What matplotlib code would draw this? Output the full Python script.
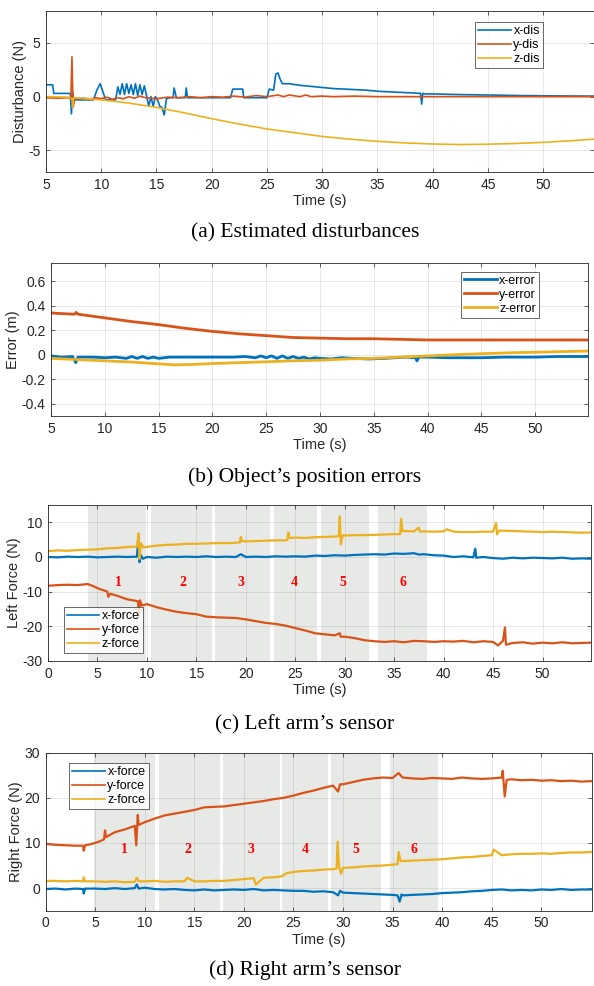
import numpy as np
import matplotlib
matplotlib.use('Agg')
import matplotlib.pyplot as plt

plt.rcParams['font.family'] = ['Liberation Sans', 'DejaVu Sans']

C_BLUE = '#0072BD'
C_RED = '#D95319'
C_YEL = '#EDB120'
C_TXT = '#262626'

# (a) estimated disturbances: (time, value)
xdis = [(5, 1.1), (5.6, 1.1), (5.7, 0.3), (7.2, 0.3), (7.3, -1.6), (7.4, 0.4), (7.5, -0.3),
        (9.3, -0.3), (9.6, 0.6), (9.9, 1.2), (10.1, 0.6), (10.4, -0.3), (11.3, -0.3),
        (11.5, 0.9), (11.7, 0.2), (11.9, 1.2), (12.1, 0.2), (12.3, 1.2), (12.5, 0.3),
        (12.7, 1.1), (12.9, 0.2), (13.1, 1.2), (13.3, 0.1), (13.5, 1.1), (13.7, 0.2),
        (13.9, 1.0), (14.1, 0.1), (14.3, -0.9), (14.5, 0.0), (14.7, -0.9), (14.9, 0.0),
        (15.1, -0.3), (15.3, -0.9), (15.5, -1.0), (15.7, -1.7), (15.9, -0.2), (16.2, -0.1),
        (16.5, -0.1), (16.6, 0.8), (16.8, -0.1), (17.6, -0.1), (17.7, 0.8), (17.8, -0.1),
        (21.7, -0.1), (21.9, 0.7), (22.8, 0.7), (22.9, -0.1), (25.0, -0.1), (25.2, 0.7),
        (25.6, 0.6), (25.8, 2.1), (26.0, 2.2), (26.2, 1.6), (26.4, 1.2), (27, 1.2), (28, 1.05),
        (29, 0.95), (30, 0.85), (31, 0.75), (32, 0.7), (33, 0.65), (34, 0.6), (35, 0.5),
        (36, 0.45), (37, 0.4), (38, 0.35), (38.9, 0.3), (39.0, -0.7), (39.1, 0.3), (39.3, 0.25),
        (40, 0.25), (42, 0.2), (45, 0.15), (48, 0.1), (50, 0.08), (52, 0.06), (54.6, 0.05)]
ydis = [(5, -0.1), (6, -0.15), (7, -0.1), (7.25, -0.2), (7.35, 3.7), (7.45, -1.0), (7.6, -0.2),
        (8.5, -0.15), (9, -0.3), (9.5, -0.1), (10, -0.2), (10.5, -0.05), (11, -0.25), (11.5, -0.1),
        (12, -0.2), (12.5, 0.0), (13, -0.15), (13.5, 0.05), (14, -0.1), (15, -0.2), (16, -0.05),
        (17, -0.1), (18, 0.0), (19, -0.1), (20, 0.0), (21, -0.05), (22, 0.05), (23, -0.05),
        (24, 0.1), (25, 0.0), (26, 0.15), (26.5, 0.0), (27, 0.15), (28, 0.0), (28.5, 0.15),
        (29, 0.0), (30, 0.05), (31, 0.0), (33, 0.05), (35, 0.0), (40, 0.0), (45, 0.0),
        (50, 0.0), (54.6, 0.0)]
zdis = [(5, 0.0), (7, -0.05), (7.35, -0.2), (7.4, -1.0), (7.5, -0.1), (8.5, -0.2), (10, -0.3),
        (12.5, -0.6), (15, -1.0), (17.5, -1.5), (20, -2.05), (22.5, -2.55), (25, -3.0),
        (27.5, -3.35), (30, -3.7), (32.5, -3.95), (35, -4.15), (37.5, -4.3), (40, -4.4),
        (42.5, -4.45), (45, -4.42), (47.5, -4.35), (50, -4.25), (52.5, -4.1), (54.6, -3.95)]

# (b) position errors
xerr = [(5, -0.01), (6, -0.02), (7, -0.015), (7.3, -0.065), (7.5, -0.02), (9, -0.02), (10, -0.025),
        (11, -0.02), (12, -0.03), (12.5, -0.015), (13, -0.03), (13.5, -0.015), (14, -0.03),
        (14.5, -0.02), (15, -0.03), (16, -0.02), (18, -0.02), (20, -0.02), (22, -0.02),
        (23, -0.015), (24, -0.025), (24.5, -0.01), (25, -0.025), (25.5, -0.01), (26, -0.03),
        (26.5, -0.01), (27, -0.03), (27.5, -0.015), (28, -0.03), (28.5, -0.02), (29, -0.035),
        (29.5, -0.025), (30, -0.03), (31, -0.035), (32, -0.025), (33, -0.03), (34.5, -0.035),
        (36, -0.03), (38, -0.02), (38.9, -0.025), (39, -0.05), (39.2, -0.02), (40, -0.02),
        (42, -0.025), (45, -0.025), (47, -0.02), (50, -0.02), (52, -0.015), (55, -0.015)]
yerr = [(5, 0.34), (6, 0.335), (7.2, 0.33), (7.35, 0.345), (7.5, 0.33), (10, 0.30), (12.5, 0.27),
        (15, 0.245), (17.5, 0.215), (20, 0.19), (22.5, 0.17), (25, 0.155), (27.5, 0.14),
        (30, 0.135), (32.5, 0.13), (35, 0.13), (37.5, 0.125), (40, 0.12), (45, 0.12),
        (50, 0.12), (55, 0.12)]
zerr = [(5, -0.03), (7.5, -0.04), (10, -0.05), (12.5, -0.06), (15, -0.075), (16.5, -0.083),
        (18, -0.08), (20, -0.072), (22.5, -0.065), (25, -0.058), (27.5, -0.05), (30, -0.045),
        (32.5, -0.035), (35, -0.03), (37.5, -0.02), (40, -0.01), (42.5, 0.0), (45, 0.008),
        (47.5, 0.015), (50, 0.02), (52.5, 0.025), (55, 0.03)]

# (c) left arm sensor
lx = [(0, 0.0), (1, -0.1), (2, 0.1), (3, 0.0), (4, 0.1), (5, -0.1), (6, 0.0), (7, 0.1), (8, 0.0),
      (9, 0.1), (9.15, 6.5), (9.25, -1.5), (9.4, 0.5), (9.6, -0.5), (10, 0.0), (11, -0.2),
      (12, 0.1), (13, 0.0), (14, 0.1), (15, 0.0), (16, 0.2), (17, 0.0), (18, 0.1), (19, 0.0),
      (19.5, 0.8), (20, 0.0), (21, 0.1), (22, 0.0), (23, 0.2), (24, 0.1), (25, 0.2), (26, 0.1),
      (27, 0.4), (28, 0.3), (29, 0.5), (30, 0.4), (31, 0.6), (32, 0.7), (33, 0.8), (34, 0.7),
      (35, 1.0), (36, 0.9), (37, 1.1), (37.5, 0.7), (38, 0.8), (39, 0.5), (40, 0.4), (41, 0.0),
      (42, 0.2), (43, -0.1), (43.2, 2.4), (43.3, -0.2), (44, 0.0), (45, -0.3), (46, -0.5),
      (47, -0.2), (48, -0.4), (49, -0.2), (50, -0.3), (51, -0.4), (52, -0.2), (53, -0.5),
      (54, -0.4), (55, -0.5)]
ly = [(0, -8.3), (1, -8.1), (2, -8.0), (3, -8.1), (4, -7.8), (4.5, -8.3), (5, -9.0), (5.5, -9.5),
      (6, -10.0), (6.1, -11.5), (6.3, -10.6), (7, -11.2), (8, -12.2), (8.8, -12.6), (9.1, -12.8),
      (9.2, -17.0), (9.3, -12.5), (9.5, -14.0), (10, -13.6), (11, -14.5), (12, -15.2),
      (13, -15.8), (14, -16.2), (15, -16.5), (16, -17.2), (17, -17.4), (18, -17.5), (19, -17.6),
      (20, -18.0), (21, -18.5), (22, -19.0), (23, -19.3), (24, -19.8), (25, -20.5), (26, -21.2),
      (27, -22.0), (28, -22.3), (29, -22.6), (29.5, -22.0), (29.6, -23.0), (30, -23.0),
      (31, -23.4), (32, -24.0), (33, -24.3), (34, -24.5), (35, -24.3), (36, -24.6), (37, -24.2),
      (38, -24.3), (39, -24.5), (40, -24.3), (41, -24.4), (42, -24.2), (43, -24.6), (44, -24.3),
      (45, -24.5), (45.5, -25.5), (46, -24.2), (46.2, -20.3), (46.3, -25.3), (47, -24.8),
      (48, -24.6), (49, -25.0), (50, -24.7), (51, -24.9), (52, -24.6), (53, -24.9), (54, -24.8),
      (55, -24.7)]
lz = [(0, 1.7), (1, 1.9), (2, 1.8), (3, 2.0), (4, 2.1), (5, 2.2), (6, 2.5), (7, 2.6), (8, 2.9),
      (9, 3.0), (9.15, 6.8), (9.25, -0.5), (9.4, 4.0), (9.6, 2.8), (10, 2.9), (11, 3.3), (12, 3.5),
      (13, 3.6), (14, 3.8), (15, 3.8), (16, 3.9), (17, 4.0), (18, 4.0), (19, 4.1), (19.4, 4.2),
      (19.5, 5.8), (19.6, 4.6), (20, 4.5), (21, 4.6), (22, 4.7), (23, 4.8), (24, 4.8), (24.2, 4.9),
      (24.3, 7.1), (24.4, 5.5), (25, 5.6), (26, 5.5), (27, 5.7), (28, 5.8), (29, 5.9), (29.4, 6.0),
      (29.5, 11.7), (29.6, 3.6), (29.8, 6.3), (30, 6.2), (31, 6.3), (32, 6.3), (33, 6.4),
      (34, 6.5), (35, 6.6), (35.6, 6.6), (35.7, 11.0), (35.85, 7.4), (36, 7.5), (37, 7.4),
      (37.5, 8.5), (37.6, 7.3), (38, 7.4), (39, 7.3), (40, 7.4), (40.3, 8.0), (41, 7.3), (42, 7.2),
      (43, 7.2), (44, 7.3), (45, 7.3), (45.3, 9.8), (45.4, 6.5), (45.6, 7.6), (46, 7.6), (47, 7.5),
      (48, 7.4), (49, 7.3), (50, 7.2), (51, 7.3), (52, 7.2), (53, 7.1), (54, 7.0), (55, 7.1)]

# (d) right arm sensor
rx = [(0, -0.2), (1, -0.1), (2, -0.3), (3, -0.1), (3.8, -0.2), (3.85, -1.2), (4, -0.1), (5, -0.1),
      (6, -0.2), (7, 0.0), (8, -0.2), (9, 0.0), (9.2, 0.8), (9.4, -0.1), (10, 0.1), (11, -0.2),
      (12, -0.3), (13, -0.2), (14, -0.4), (15, -0.5), (16, -0.3), (17, -0.5), (18, -0.4),
      (19, -0.3), (20, -0.4), (21, -0.2), (22, -0.5), (23, -0.4), (24, -0.5), (25, -0.6),
      (26, -0.6), (27, -0.8), (28, -0.7), (29, -0.9), (29.5, -1.6), (29.7, -0.6), (30, -1.0),
      (31, -1.1), (32, -1.2), (33, -1.3), (34, -1.4), (35, -1.5), (35.5, -1.6), (35.7, -3.0),
      (35.9, -1.4), (36, -1.6), (37, -1.5), (38, -1.4), (39, -1.3), (40, -1.1), (41, -1.0),
      (42, -0.9), (43, -0.7), (44, -0.6), (45, -0.4), (46, -0.3), (47, -0.5), (48, -0.4),
      (49, -0.5), (50, -0.3), (51, -0.4), (52, -0.2), (53, -0.4), (54, -0.3), (55, -0.3)]
ry = [(0, 9.8), (1, 9.6), (2, 9.5), (3, 9.4), (3.8, 9.4), (3.85, 8.3), (4, 9.5), (4.5, 9.7),
      (5, 10.0), (5.5, 10.4), (5.9, 10.8), (6.0, 12.8), (6.1, 11.3), (7, 12.4), (8, 13.0),
      (9, 13.8), (9.15, 9.5), (9.3, 16.2), (9.4, 14.0), (10, 14.6), (11, 15.4), (12, 16.1),
      (13, 16.5), (14, 16.9), (15, 17.3), (16, 17.9), (17, 18.0), (18, 18.1), (19, 18.4),
      (20, 18.7), (21, 19.0), (22, 19.3), (23, 19.7), (24, 20.0), (25, 20.5), (26, 21.1),
      (27, 21.6), (28, 22.2), (29, 22.7), (29.5, 21.4), (29.7, 23.0), (30, 23.0), (31, 23.5),
      (32, 24.0), (33, 24.3), (34, 24.5), (35, 24.4), (35.6, 25.5), (36, 24.5), (37, 24.3),
      (38, 24.2), (39, 24.4), (40, 24.3), (41, 24.2), (42, 24.5), (43, 24.3), (44, 24.2),
      (45, 24.3), (46, 24.5), (46.1, 26.0), (46.3, 20.3), (46.5, 24.0), (47, 24.1), (48, 23.9),
      (49, 24.0), (50, 23.8), (51, 23.9), (52, 23.7), (53, 23.8), (54, 23.6), (55, 23.7)]
rz = [(0, 1.6), (1, 1.6), (2, 1.5), (3, 1.6), (3.8, 1.5), (3.85, 2.4), (4, 1.5), (5, 1.5), (6, 1.4),
      (7, 1.5), (8, 1.3), (9, 1.4), (9.2, 2.3), (9.4, 1.5), (10, 1.5), (11, 1.6), (12, 1.4),
      (13, 1.5), (14, 1.5), (14.3, 2.3), (15, 1.5), (16, 1.5), (17, 1.6), (18, 1.6), (19, 1.8),
      (20, 2.0), (21, 2.2), (21.2, 0.8), (22, 2.3), (23, 2.4), (23.8, 2.6), (24.3, 3.3),
      (25, 3.6), (26, 3.8), (27, 3.9), (28, 4.1), (29, 4.2), (29.35, 4.3), (29.45, 10.3),
      (29.6, 4.8), (29.8, 3.2), (30, 4.5), (31, 4.6), (32, 4.8), (33, 4.9), (34, 5.0), (35, 5.2),
      (35.5, 5.3), (35.6, 8.0), (35.8, 6.0), (36, 6.0), (37, 6.1), (38, 6.2), (39, 6.3),
      (40, 6.4), (41, 6.6), (42, 6.8), (43, 6.9), (44, 7.1), (45, 7.3), (45.2, 8.5), (46, 7.3),
      (47, 7.5), (48, 7.6), (49, 7.6), (50, 7.7), (51, 7.6), (52, 7.8), (53, 7.9), (54, 7.9),
      (55, 8.0)]

# phases
left_bands = [(4.05, 9.95), (10.45, 16.6), (16.85, 22.45), (22.8, 27.2), (27.6, 32.5), (33.4, 38.3)]
left_lbl_x = [7.1, 13.6, 19.5, 24.9, 29.8, 35.9]
right_bands = [(4.9, 11.0), (11.4, 17.6), (17.9, 23.6), (23.8, 28.5), (28.8, 33.8), (34.7, 39.6)]
right_lbl_x = [8.0, 14.4, 20.7, 26.2, 31.3, 37.1]
phase_names = ['1', '2', '3', '4', '5', '6']


def style(ax, xlim, ylim, xticks, yticks, yticklabels, ylabel):
    ax.set_xlim(xlim)
    ax.set_ylim(ylim)
    ax.set_xticks(xticks)
    ax.set_yticks(yticks)
    ax.set_yticklabels(yticklabels)
    ax.grid(True, color=C_TXT, alpha=0.12, linewidth=0.6)
    ax.set_axisbelow(True)
    ax.tick_params(direction='in', top=True, right=True, length=3, width=0.5,
                   labelsize=10, colors=C_TXT, pad=4)
    for s in ax.spines.values():
        s.set_color(C_TXT)
        s.set_linewidth(0.6)
    ax.set_xlabel('Time (s)', fontsize=10.5, color=C_TXT, labelpad=2)
    ax.set_ylabel(ylabel, fontsize=10.5, color=C_TXT, labelpad=1)


def draw(ax, series, labels, lw):
    for pts, c, lab in zip(series, [C_BLUE, C_RED, C_YEL], labels):
        t, v = zip(*pts)
        ax.plot(t, v, color=c, lw=lw, label=lab)


def legend(ax, loc, anchor, lw):
    leg = ax.legend(loc=loc, bbox_to_anchor=anchor, fontsize=9, frameon=True, fancybox=False,
                    handlelength=2.6, handletextpad=0.2, labelspacing=0.15, borderpad=0.25,
                    borderaxespad=0)
    leg.get_frame().set_edgecolor(C_TXT)
    leg.get_frame().set_linewidth(0.6)
    for line in leg.get_lines():
        line.set_linewidth(lw)


fig = plt.figure(figsize=(5.94, 9.86), dpi=100)
W, H = 594.0, 986.0


def box(l, r, t, b):
    return [l / W, (H - b) / H, (r - l) / W, (b - t) / H]


ax1 = fig.add_axes(box(46, 594, 10.5, 172))
draw(ax1, [xdis, ydis, zdis], ['x-dis', 'y-dis', 'z-dis'], 1.2)
style(ax1, (5, 54.6), (-7, 8), np.arange(5, 55, 5), [-5, 0, 5], ['-5', '0', '5'],
      'Disturbance (N)')
legend(ax1, 'upper right', (0.907, 0.928), 1.2)

ax2 = fig.add_axes(box(51, 588, 262.7, 416))
draw(ax2, [xerr, yerr, zerr], ['x-error', 'y-error', 'z-error'], 2.0)
style(ax2, (5, 54.9), (-0.5, 0.75), np.arange(5, 55, 5), [-0.4, -0.2, 0, 0.2, 0.4, 0.6],
      ['-0.4', '-0.2', '0', '0.2', '0.4', '0.6'], 'Error (m)')
legend(ax2, 'upper right', (0.909, 0.941), 2.0)

ax3 = fig.add_axes(box(48, 591, 505, 661))
for (a, b) in left_bands:
    ax3.axvspan(a, b, color='#dfe2e0', alpha=0.75, lw=0, zorder=0.4)
draw(ax3, [lx, ly, lz], ['x-force', 'y-force', 'z-force'], 1.6)
style(ax3, (0, 54.9), (-30, 15), np.arange(0, 55, 5), [-30, -20, -10, 0, 10],
      ['-30', '-20', '-10', '0', '10'], 'Left Force (N)')
for x, s in zip(left_lbl_x, phase_names):
    ax3.text(x, -7.5, s, color='red', fontsize=10, fontweight='bold',
             family='Liberation Serif', ha='center', va='center')
legend(ax3, 'lower left', (0.029, 0.051), 1.2)

ax4 = fig.add_axes(box(45.5, 592, 752.7, 910.7))
for (a, b) in right_bands:
    ax4.axvspan(a, b, color='#dfe2e0', alpha=0.75, lw=0, zorder=0.4)
draw(ax4, [rx, ry, rz], ['x-force', 'y-force', 'z-force'], 1.6)
style(ax4, (0, 55.1), (-5, 30), np.arange(0, 55, 5), [0, 10, 20, 30],
      ['0', '10', '20', '30'], 'Right Force (N)')
for x, s in zip(right_lbl_x, phase_names):
    ax4.text(x, 8.6, s, color='red', fontsize=10, fontweight='bold',
             family='Liberation Serif', ha='center', va='center')
legend(ax4, 'upper left', (0.0435, 0.933), 1.2)

caps = [('(a) Estimated disturbances', 233), ("(b) Object\u2019s position errors", 477.5),
        ("(c) Left arm\u2019s sensor", 725), ("(d) Right arm\u2019s sensor", 970)]
for txt, y in caps:
    fig.text(305 / W, (H - y) / H, txt, family='Liberation Serif', fontsize=15.5,
             ha='center', va='center', color='black')

fig.savefig('out.png', dpi=100)
